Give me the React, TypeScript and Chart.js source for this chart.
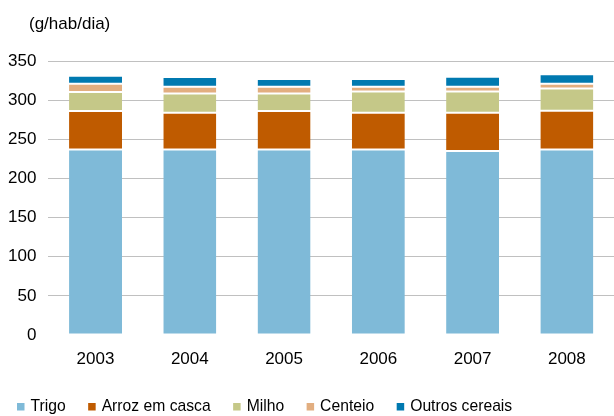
import React, { useEffect, useRef } from "react";
import { Chart, registerables } from "chart.js";

Chart.register(...registerables);

const unitLabel = "(g/hab/dia)";
const years = ["2003", "2004", "2005", "2006", "2007", "2008"];
const trigo = [237, 237, 237, 237, 235, 237];
const arroz = [49, 47, 49, 47, 49, 49.5];
const milho = [24.5, 24.5, 22.5, 27, 27, 28.5];
const centeio = [10.5, 8.5, 8.5, 6, 6, 6];
const outros = [10, 12.5, 10, 10, 13, 12];
const yTicks = [0, 50, 100, 150, 200, 250, 300, 350];

const FONT = "'Liberation Sans', Arial, sans-serif";

export default function App() {
  const ref = useRef<HTMLCanvasElement | null>(null);

  useEffect(() => {
    if (!ref.current) return;
    const mk = (label: string, data: number[], color: string) => ({
      label,
      data,
      backgroundColor: color,
      borderColor: "#ffffff",
      borderWidth: { top: 1, bottom: 1, left: 0, right: 0 },
      borderSkipped: false as const,
      barPercentage: 1,
      categoryPercentage: 0.562,
    });
    const unitPlugin = {
      id: "unitLabel",
      afterDraw(chart: any) {
        const ctx = chart.ctx;
        ctx.save();
        ctx.font = `17px ${FONT}`;
        ctx.fillStyle = "#000";
        ctx.textBaseline = "middle";
        ctx.textAlign = "left";
        ctx.fillText(unitLabel, 29, 24);
        // legend
        ctx.font = `15.7px ${FONT}`;
        let x = 17;
        const yMid = 407;
        chart.data.datasets.forEach((ds: any) => {
          ctx.fillStyle = ds.backgroundColor;
          ctx.fillRect(x, yMid - 4, 7.5, 7.5);
          ctx.fillStyle = "#000";
          ctx.fillText(ds.label, x + 13.5, yMid);
          x += 13.5 + ctx.measureText(ds.label).width + 22.5;
        });
        ctx.restore();
      },
    };
    const chart = new Chart(ref.current, {
      type: "bar",
      data: {
        labels: years,
        datasets: [
          mk("Trigo", trigo, "#7FBAD8"),
          mk("Arroz em casca", arroz, "#BF5B00"),
          mk("Milho", milho, "#C5C888"),
          mk("Centeio", centeio, "#E2AE80"),
          mk("Outros cereais", outros, "#0079B0"),
        ],
      },
      options: {
        responsive: false,
        animation: false,
        layout: { padding: { top: 61, left: 7, right: 0, bottom: 32.6 } },
        plugins: {
          tooltip: { enabled: false },
          title: { display: false },
          legend: { display: false },
        },
        scales: {
          x: {
            stacked: true,
            grid: { display: false, drawTicks: false },
            border: { display: false },
            ticks: { color: "#000", font: { family: FONT, size: 17 }, padding: 14 },
          },
          y: {
            stacked: true,
            min: 0,
            max: 350,
            afterBuildTicks: (axis: any) => {
              axis.ticks = yTicks.map((v) => ({ value: v }));
            },
            afterFit: (axis: any) => {
              axis.width = 41.4;
            },
            grid: {
              drawTicks: false,
              color: (c: any) => (c.tick && c.tick.value === 0 ? "rgba(0,0,0,0)" : "#C0C0C0"),
              lineWidth: 1,
            },
            border: { display: false },
            ticks: { color: "#000", font: { family: FONT, size: 17 }, padding: 12 },
          },
        },
      },
      plugins: [unitPlugin],
    });
    return () => chart.destroy();
  }, []);

  return (
    <div style={{ position: "fixed", left: 0, top: 0, width: 614, height: 416, background: "#fff" }}>
      <canvas ref={ref} width={614} height={416} />
    </div>
  );
}
